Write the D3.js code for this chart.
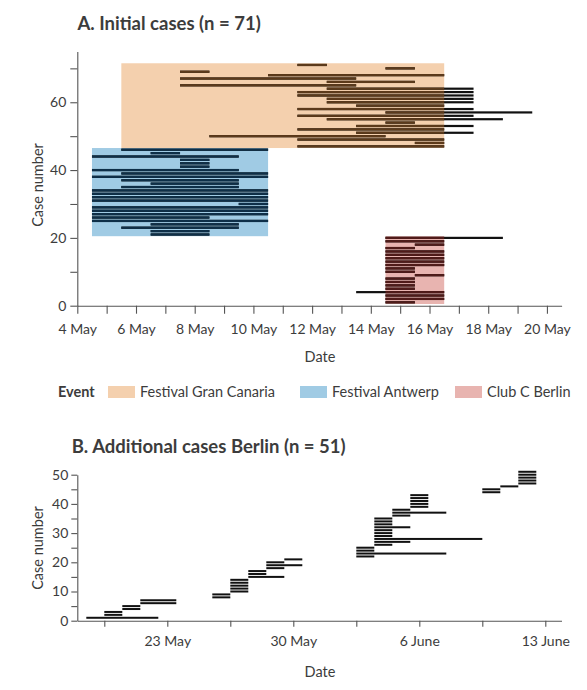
<!DOCTYPE html>
<html><head><meta charset="utf-8">
<script src="https://cdn.jsdelivr.net/npm/d3@7"></script>
<style>
body{margin:0;background:#fff;}
text{font-family:Lato,"Open Sans",sans-serif;}
</style>
</head><body>
<svg id="c" width="587" height="690"></svg>
<script>
// ---------- DATA ----------
// Panel A: events
const events = ["Festival Gran Canaria", "Festival Antwerp", "Club C Berlin"];
const eventFirstDay = [6, 5, 15];   // May
const eventLastDay = [16, 10, 16];  // May
const eventFirstCase = [47, 21, 1];
const eventLastCase = [71, 46, 20];

// Panel A: cases 1..71, first and last day (May)
const casesA = [1,2,3,4,5,6,7,8,9,10,11,12,13,14,15,16,17,18,19,20,
  21,22,23,24,25,26,27,28,29,30,31,32,33,34,35,36,37,38,39,40,41,42,43,44,45,46,
  47,48,49,50,51,52,53,54,55,56,57,58,59,60,61,62,63,64,65,66,67,68,69,70,71];
const startA = [15,15,15,14,15,15,15,15,16,15,15,15,15,15,15,15,15,16,15,15,
  7,7,6,7,5,5,5,5,5,10,5,5,5,5,6,7,6,5,6,5,8,8,8,5,7,6,
  12,16,12,9,14,12,14,15,13,12,15,12,14,13,13,12,12,13,8,13,8,11,8,15,12];
const endA = [15,16,16,16,15,15,15,15,16,15,15,16,16,16,16,16,15,16,16,18,
  8,8,9,9,10,8,10,10,10,10,10,10,10,10,9,9,9,10,10,9,8,8,8,9,7,10,
  16,16,16,14,17,16,17,15,18,17,19,17,16,17,17,17,17,17,13,15,13,16,8,15,12];
const yTicksA = [0,10,20,30,40,50,60,70];
const yLabelsA = [0,20,40,60];

// Panel B: additional Berlin cases 1..51 (first / last day)
const casesB = [1,2,3,4,5,6,7,8,9,10,11,12,13,14,15,16,17,18,19,20,
  21,22,23,24,25,26,27,28,29,30,31,32,33,34,35,36,37,38,39,40,
  41,42,43,44,45,46,47,48,49,50,51];
const startB = ["05-19","05-20","05-20","05-21","05-21","05-22","05-22","05-26","05-26","05-27",
  "05-27","05-27","05-27","05-27","05-28","05-28","05-28","05-29","05-29","05-29",
  "05-30","06-03","06-03","06-03","06-03","06-04","06-04","06-04","06-04","06-04",
  "06-04","06-04","06-04","06-04","06-04","06-05","06-05","06-05","06-06","06-06",
  "06-06","06-06","06-06","06-10","06-10","06-11","06-12","06-12","06-12","06-12","06-12"];
const endB = ["05-22","05-20","05-20","05-21","05-21","05-23","05-23","05-26","05-26","05-27",
  "05-27","05-27","05-27","05-27","05-29","05-28","05-28","05-29","05-30","05-29",
  "05-30","06-03","06-07","06-03","06-03","06-04","06-05","06-09","06-04","06-04",
  "06-04","06-05","06-04","06-04","06-04","06-05","06-07","06-05","06-06","06-06",
  "06-06","06-06","06-06","06-10","06-10","06-11","06-12","06-12","06-12","06-12","06-12"];
const xTickLabelsB = ["23 May","30 May","6 June","13 June"];
const yTicksB = [0,5,10,15,20,25,30,35,40,45,50];
const yLabelsB = [0,10,20,30,40,50];

// ---------- STYLE ----------
const shade = ["#f4d0ae", "#a0cbe4", "#e8b4b0"];
const barCol = ["#5c3a1b", "#0e2f48", "#501b19"];
const axisCol = "#555";
const textCol = "#3c3c3c";

const svg = d3.select("#c");
const DAY = 864e5, HALF = DAY / 2;
const may = d => new Date(Date.UTC(2022, 4, d));
const md = s => { const [m, d] = s.split("-").map(Number); return new Date(Date.UTC(2022, m - 1, d)); };

// ---------- PANEL A ----------
const xA = d3.scaleUtc().domain([may(4), new Date(+may(20) + HALF)]).range([77.3, 561.6]);
const yA = d3.scaleLinear().domain([0, 75]).range([305.7, 51.4]);

svg.append("text").attr("x", 77.5).attr("y", 29.5).attr("font-size", 18.5).attr("font-weight", 700)
  .attr("fill", textCol).text("A. Initial cases (n = 71)");

const gA = svg.append("g");
events.forEach((ev, e) => {
  gA.append("rect")
    .attr("x", xA(+may(eventFirstDay[e]) - HALF))
    .attr("width", xA(+may(eventLastDay[e]) + HALF) - xA(+may(eventFirstDay[e]) - HALF))
    .attr("y", yA(eventLastCase[e] + 0.5))
    .attr("height", yA(eventFirstCase[e] - 0.5) - yA(eventLastCase[e] + 0.5))
    .attr("fill", shade[e]);
});
const hA = 2.2;
casesA.forEach((c, i) => {
  const e = events.findIndex((_, k) => c >= eventFirstCase[k] && c <= eventLastCase[k]);
  const x0 = xA(+may(startA[i]) - HALF), x1 = xA(+may(endA[i]) + HALF);
  const ex0 = xA(+may(eventFirstDay[e]) - HALF), ex1 = xA(+may(eventLastDay[e]) + HALF);
  const y = yA(c) - hA / 2;
  gA.append("rect").attr("x", x0).attr("width", x1 - x0).attr("y", y).attr("height", hA).attr("fill", "#111");
  const a = Math.max(x0, ex0), b = Math.min(x1, ex1);
  if (b > a) gA.append("rect").attr("x", a).attr("width", b - a).attr("y", y).attr("height", hA).attr("fill", barCol[e]);
});

svg.append("g").attr("transform", "translate(0,305.7)")
  .call(d3.axisBottom(xA).tickValues(d3.utcDay.range(may(4), may(21))).tickSize(8).tickSizeOuter(0).tickPadding(10)
    .tickFormat(d => d.getUTCDate() % 2 === 0 ? d.getUTCDate() + " May" : ""));
svg.append("g").attr("transform", "translate(77.3,0)")
  .call(d3.axisLeft(yA).tickValues(yTicksA).tickSize(7).tickSizeOuter(0).tickPadding(4)
    .tickFormat(d => yLabelsA.includes(d) ? d : ""));

svg.append("text").attr("x", 320).attr("y", 362).attr("text-anchor", "middle").attr("font-size", 14.5).attr("fill", textCol).text("Date");
svg.append("text").attr("transform", "translate(43,185) rotate(-90)").attr("text-anchor", "middle").attr("font-size", 14.5).attr("fill", textCol).text("Case number");

// Legend
svg.append("text").attr("x", 58).attr("y", 397).attr("font-size", 14.5).attr("font-weight", 700).attr("fill", textCol).text("Event");
const legX = [108, 300, 455];
events.forEach((ev, e) => {
  svg.append("rect").attr("x", legX[e]).attr("y", 386).attr("width", 27).attr("height", 12).attr("fill", shade[e]);
  svg.append("text").attr("x", legX[e] + 32).attr("y", 397).attr("font-size", 14.5).attr("fill", textCol).text(ev);
});

// ---------- PANEL B ----------
svg.append("text").attr("x", 71.7).attr("y", 452.5).attr("font-size", 18.5).attr("font-weight", 700)
  .attr("fill", textCol).text("B. Additional cases Berlin (n = 51)");

const xB = d3.scaleUtc().domain([md("05-18"), new Date(+md("06-13") + 0.9 * DAY)]).range([77.3, 561.5]);
const yB = d3.scaleLinear().domain([0, 50]).range([620.7, 474.7]);
const hB = 2.0;
const gB = svg.append("g");
casesB.forEach((c, i) => {
  const x0 = xB(+md(startB[i]) - HALF), x1 = xB(+md(endB[i]) + HALF);
  gB.append("rect").attr("x", x0).attr("width", x1 - x0).attr("y", yB(c) - hB / 2).attr("height", hB).attr("fill", "#111");
});

const labelledB = xTickLabelsB.map(s => d3.utcParse("%d %B %Y")(s + " 2022"));
const tickValsB = [];
labelledB.forEach(d => { tickValsB.push(new Date(+d - 3.5 * DAY)); tickValsB.push(d); });
svg.append("g").attr("transform", "translate(0,620.7)")
  .call(d3.axisBottom(xB).tickValues(tickValsB).tickSize(6).tickSizeOuter(0).tickPadding(9)
    .tickFormat(d => { const k = labelledB.findIndex(l => +l === +d); return k >= 0 ? xTickLabelsB[k] : ""; }));
svg.append("g").attr("transform", "translate(77.3,0)")
  .call(d3.axisLeft(yB).tickValues(yTicksB).tickSize(6).tickSizeOuter(0).tickPadding(3)
    .tickFormat(d => yLabelsB.includes(d) ? d : ""));

svg.append("text").attr("x", 320).attr("y", 677).attr("text-anchor", "middle").attr("font-size", 14.5).attr("fill", textCol).text("Date");
svg.append("text").attr("transform", "translate(43,548) rotate(-90)").attr("text-anchor", "middle").attr("font-size", 14.5).attr("fill", textCol).text("Case number");

// axis styling
svg.selectAll(".domain, .tick line").attr("stroke", axisCol).attr("stroke-width", 1.1);
svg.selectAll(".tick text").attr("font-size", 14).attr("fill", textCol).attr("font-family", "Lato, 'Open Sans', sans-serif");
</script>
</body></html>
